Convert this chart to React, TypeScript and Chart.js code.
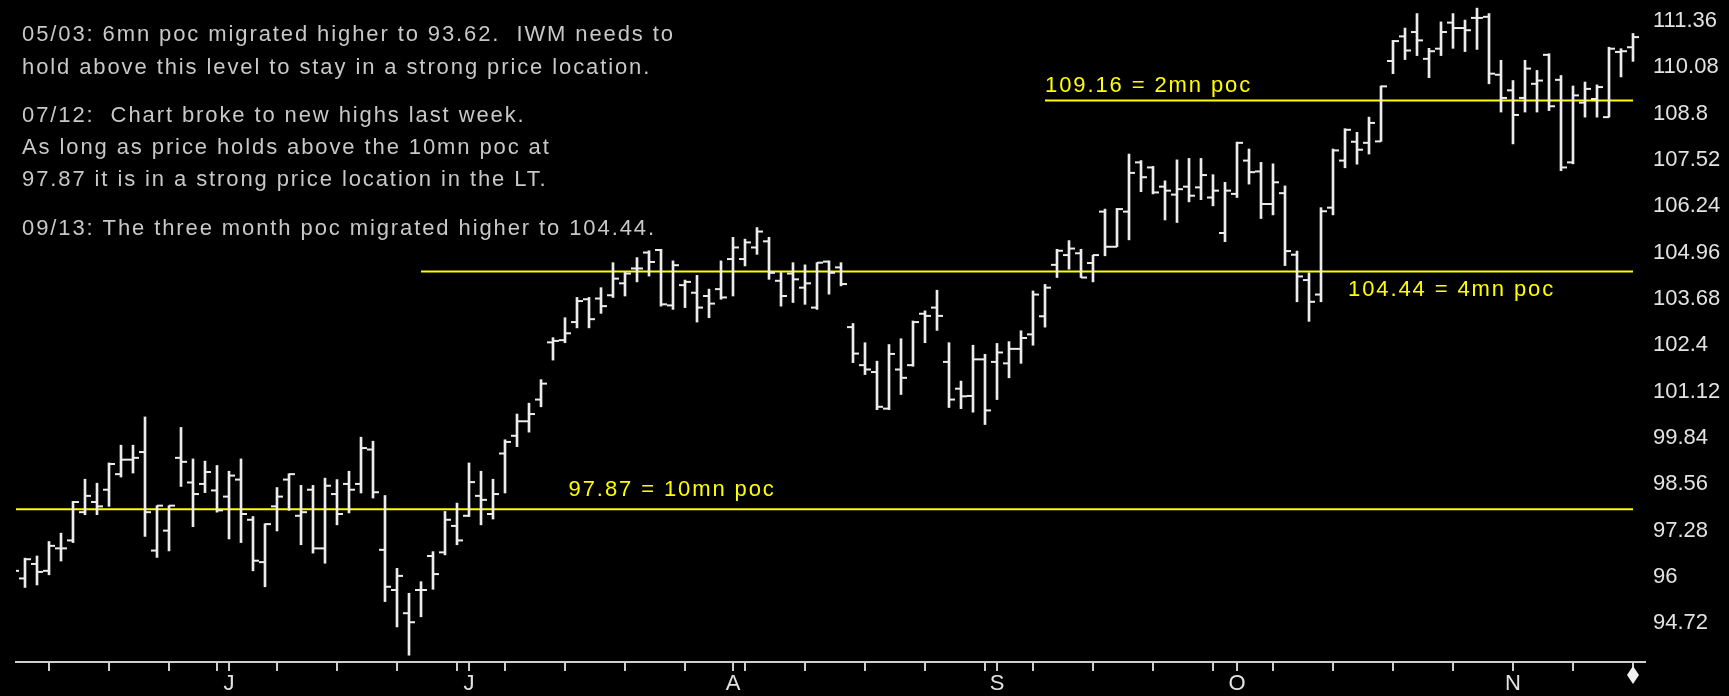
import { useEffect, useRef } from 'react';
import { Chart, registerables } from 'chart.js';

Chart.register(...registerables);

// ---- data: daily OHLC bars (bar index 1..136, 7 May .. 15 Nov) ----
const OPEN = [
  96.10, 95.96, 96.36, 96.17, 96.79, 97.01, 97.79, 98.07, 98.41, 98.84,
  99.24, 99.45, 96.73, 97.28, 99.29, 98.61, 98.57, 98.39, 98.22, 98.69,
  97.58, 96.41, 97.95, 98.69, 97.69, 98.41, 96.79, 98.29, 98.57, 98.57,
  99.52, 96.75, 95.64, 95.00, 95.64, 96.58, 96.68, 97.41, 97.69, 98.24,
  97.74, 99.41, 99.90, 100.30, 100.90, 102.48, 102.54, 103.04, 103.67, 103.69,
  103.78, 104.11, 104.52, 104.96, 105.03, 103.50, 104.06, 103.85, 103.76, 103.95,
  104.78, 104.78, 105.10, 105.27, 104.18, 104.38, 103.99, 103.44, 104.71, 104.55,
  102.90, 101.85, 101.66, 100.65, 101.73, 101.85, 103.27, 103.44, 101.94, 101.20,
  101.00, 102.01, 101.94, 101.90, 102.30, 102.70, 103.20, 104.62, 104.89, 104.94,
  104.67, 106.09, 105.12, 106.09, 107.45, 107.31, 106.78, 106.56, 106.78, 106.76,
  106.48, 105.50, 106.58, 107.50, 107.20, 106.30, 106.60, 104.90, 104.20, 103.80,
  106.20, 107.50, 108.02, 107.99, 108.03, 110.25, 110.93, 111.05, 110.31, 110.59,
  111.31, 111.16, 111.44, 111.47, 109.87, 109.44, 109.23, 109.62, 110.42, 109.73,
  107.45, 109.10, 109.20, 108.70, 110.50, 110.63,
];
const HIGH = [
  96.30, 96.52, 96.58, 96.98, 97.21, 98.09, 98.70, 98.59, 99.15, 99.64,
  99.64, 100.42, 97.97, 97.97, 100.13, 99.26, 99.20, 99.08, 98.92, 99.26,
  97.67, 97.47, 98.47, 98.85, 98.53, 98.53, 98.73, 98.69, 98.92, 99.86,
  99.75, 98.25, 96.24, 95.55, 95.87, 96.70, 97.81, 98.04, 99.15, 98.92,
  98.70, 99.79, 100.50, 100.80, 101.45, 102.61, 103.16, 103.72, 103.72, 103.99,
  104.68, 104.41, 104.82, 105.01, 105.05, 104.73, 104.20, 104.33, 103.95, 104.73,
  105.38, 105.33, 105.65, 105.38, 104.41, 104.68, 104.62, 104.68, 104.73, 104.68,
  103.00, 102.47, 101.96, 102.42, 102.58, 103.07, 103.35, 103.92, 102.47, 101.41,
  102.40, 102.15, 102.45, 102.50, 102.80, 103.90, 104.08, 105.05, 105.29, 105.05,
  104.89, 106.16, 106.18, 107.68, 107.50, 107.34, 106.94, 107.52, 107.56, 107.56,
  107.11, 106.90, 108.01, 107.82, 107.45, 107.41, 106.80, 105.00, 104.40, 106.20,
  107.82, 108.38, 108.28, 108.70, 109.56, 110.82, 111.16, 111.56, 110.60, 111.33,
  111.56, 111.38, 111.71, 111.56, 110.27, 109.71, 110.27, 109.99, 110.45, 109.85,
  109.56, 109.67, 109.59, 110.63, 110.59, 111.01,
];
const LOW = [
  96.00, 95.71, 95.78, 96.06, 96.44, 96.95, 97.72, 97.72, 97.95, 98.76,
  98.87, 97.12, 96.54, 96.72, 98.50, 97.39, 98.33, 97.79, 97.05, 96.95,
  96.17, 95.73, 97.27, 97.84, 96.89, 96.66, 96.38, 97.44, 97.77, 98.32,
  98.18, 95.32, 94.62, 93.84, 94.90, 95.66, 96.61, 96.89, 97.67, 97.44,
  97.60, 98.32, 99.60, 100.00, 100.70, 101.99, 102.47, 102.88, 102.88, 103.28,
  103.72, 103.76, 104.15, 104.31, 103.48, 103.39, 103.44, 103.04, 103.16, 103.67,
  103.76, 104.59, 104.91, 104.22, 103.48, 103.58, 103.53, 103.39, 103.81, 104.04,
  101.92, 101.59, 100.62, 100.62, 101.04, 101.82, 102.47, 102.81, 100.68, 100.65,
  100.55, 100.21, 100.90, 101.50, 101.90, 102.40, 102.90, 104.27, 104.50, 104.27,
  104.15, 104.87, 105.12, 105.31, 106.64, 106.58, 105.86, 105.79, 106.36, 106.42,
  106.25, 105.26, 106.48, 106.85, 105.90, 106.00, 104.60, 103.60, 103.06, 103.60,
  106.00, 107.30, 107.40, 107.68, 108.03, 109.90, 110.29, 110.40, 109.79, 110.40,
  110.60, 110.51, 110.57, 109.62, 108.84, 107.96, 108.84, 108.84, 108.88, 107.22,
  107.41, 108.70, 108.70, 108.70, 109.81, 110.24,
];
const CLOSE = [
  96.17, 96.49, 96.14, 96.86, 96.79, 98.07, 98.24, 97.95, 99.12, 99.24,
  99.29, 97.79, 97.97, 97.97, 99.18, 98.29, 98.90, 97.84, 98.80, 97.74,
  96.45, 97.46, 98.22, 98.84, 97.79, 96.79, 98.52, 97.74, 98.41, 99.56,
  98.34, 95.73, 96.03, 94.75, 95.64, 96.08, 97.58, 97.01, 98.62, 98.13,
  98.29, 99.73, 100.30, 100.50, 101.34, 102.52, 102.73, 103.62, 103.12, 103.48,
  104.24, 104.38, 104.52, 104.70, 103.53, 104.61, 104.15, 103.44, 103.55, 103.72,
  105.10, 105.24, 105.54, 104.40, 103.76, 104.22, 104.11, 104.68, 104.40, 104.09,
  102.17, 101.73, 100.70, 102.16, 101.50, 103.04, 103.21, 103.21, 100.90, 100.99,
  102.01, 100.60, 102.20, 102.30, 102.60, 103.80, 103.99, 105.01, 105.07, 104.27,
  104.89, 105.12, 106.16, 107.16, 107.04, 106.62, 106.67, 106.71, 106.53, 107.10,
  106.67, 106.67, 107.99, 107.18, 106.30, 106.90, 105.00, 104.30, 103.60, 106.10,
  107.78, 108.35, 107.80, 108.54, 109.55, 110.80, 110.54, 110.82, 110.52, 111.05,
  111.16, 111.10, 111.44, 109.90, 109.23, 108.76, 110.04, 109.71, 109.00, 107.31,
  109.30, 109.48, 109.53, 110.59, 110.52, 110.91,
];

// price axis ticks
const Y_TICKS = [94.72, 96, 97.28, 98.56, 99.84, 101.12, 102.4, 103.68, 104.96, 106.24, 107.52, 108.8, 110.08, 111.36];
const Y_TICK_LABELS = ['94.72', '96', '97.28', '98.56', '99.84', '101.12', '102.4', '103.68', '104.96', '106.24', '107.52', '108.8', '110.08', '111.36'];
const Y_MIN = 93.652;
const Y_MAX = 111.769;

// time axis: weekly (Friday) ticks and first trading day of each month, as bar indexes
const WEEK_END_BARS = [4, 9, 14, 18, 23, 28, 33, 38, 42, 47, 52, 57, 62, 67, 72, 77, 82, 86, 91, 96, 101, 106, 111, 116, 121, 126, 131, 136];
const MONTH_START_BARS = [19, 39, 61, 83, 103, 126];
const MONTH_LABELS = ['J', 'J', 'A', 'S', 'O', 'N'];

// point-of-control levels
const LEVELS = [97.87, 104.44, 109.16];
const LEVEL_START_BARS = [1, 35, 87];
const LEVEL_LABELS = ['97.87 = 10mn poc', '104.44 = 4mn poc', '109.16 = 2mn poc'];

const NOTES = [
  '05/03: 6mn poc migrated higher to 93.62.  IWM needs to',
  'hold above this level to stay in a strong price location.',
  '07/12:  Chart broke to new highs last week.',
  'As long as price holds above the 10mn poc at',
  '97.87 it is in a strong price location in the LT.',
  '09/13: The three month poc migrated higher to 104.44.',
];

const FONT = '"Liberation Sans", Arial, sans-serif';
const BAR_COLOR = '#ececec';

export default function App() {
  const ref = useRef<HTMLCanvasElement | null>(null);

  useEffect(() => {
    document.body.style.background = '#000';
    const n = OPEN.length;
    const tickBars = Array.from(new Set([...WEEK_END_BARS, ...MONTH_START_BARS])).sort((a, b) => a - b);

    const ranges = OPEN.map((_, i) => ({ x: i + 1, y: [LOW[i], HIGH[i]] }));
    const opens = OPEN.map((v, i) => ({ x: i + 1 - 0.25, y: v }));
    const closes = CLOSE.map((v, i) => ({ x: i + 1 + 0.25, y: v }));

    const levelSets = LEVELS.map((lv, k) => ({
      type: 'line' as const,
      data: [{ x: LEVEL_START_BARS[k], y: lv }, { x: n, y: lv }],
      borderColor: '#ffff00',
      borderWidth: 2,
      pointRadius: 0,
      order: 10,
    }));

    const notesPlugin = {
      id: 'notes',
      afterDatasetsDraw(chart: any) {
        const { ctx, scales } = chart;
        const xs = scales.x;
        const ys = scales.y;
        ctx.save();
        ctx.font = `22px ${FONT}`;
        ctx.letterSpacing = '1.9px';
        ctx.textAlign = 'left';
        ctx.textBaseline = 'alphabetic';
        ctx.fillStyle = '#c8c8c8';
        const baselines = [41, 74, 122, 154, 186, 235];
        NOTES.forEach((t, i) => ctx.fillText(t, 22, baselines[i]));

        ctx.fillStyle = '#ffff00';
        const labelBars = [47.3, 112.25, 87];
        const labelDy = [-13, 25, -8];
        LEVEL_LABELS.forEach((t, k) => {
          ctx.fillText(t, xs.getPixelForValue(labelBars[k]), ys.getPixelForValue(LEVELS[k]) + labelDy[k]);
        });
        ctx.restore();

        // current-bar marker under the time axis
        const mx = xs.getPixelForValue(n);
        const my = chart.chartArea.bottom + 13;
        ctx.save();
        ctx.fillStyle = '#f0f0f0';
        ctx.beginPath();
        ctx.moveTo(mx, my - 9);
        ctx.lineTo(mx + 6, my);
        ctx.lineTo(mx, my + 9);
        ctx.lineTo(mx - 6, my);
        ctx.closePath();
        ctx.fill();
        ctx.restore();
      },
    };

    const chart = new Chart(ref.current as HTMLCanvasElement, {
      type: 'bar',
      data: {
        datasets: [
          ...levelSets,
          {
            type: 'bar' as const,
            data: ranges as any,
            backgroundColor: BAR_COLOR,
            borderWidth: 0,
            barThickness: 2,
            grouped: false,
            order: 2,
          },
          {
            type: 'scatter' as const,
            data: opens,
            pointStyle: 'line',
            pointRadius: 3,
            pointBorderWidth: 2,
            pointBorderColor: BAR_COLOR,
            pointBackgroundColor: BAR_COLOR,
            order: 1,
          },
          {
            type: 'scatter' as const,
            data: closes,
            pointStyle: 'line',
            pointRadius: 3,
            pointBorderWidth: 2,
            pointBorderColor: BAR_COLOR,
            pointBackgroundColor: BAR_COLOR,
            order: 1,
          },
        ] as any,
      },
      options: {
        responsive: false,
        maintainAspectRatio: false,
        animation: false,
        events: [],
        layout: { padding: { left: 16, right: 0, top: 0, bottom: 0 } },
        plugins: { legend: { display: false }, tooltip: { enabled: false } },
        scales: {
          x: {
            type: 'linear',
            min: 1.25,
            max: 137,
            offset: false,
            afterBuildTicks: (s: any) => {
              s.ticks = tickBars.map((v) => ({ value: v }));
            },
            afterFit: (s: any) => {
              s.height = 34;
              s.paddingLeft = 0;
              s.paddingRight = 0;
            },
            grid: {
              display: true,
              drawOnChartArea: false,
              drawTicks: true,
              tickLength: 9,
              color: '#cfcfcf',
              lineWidth: 2,
              offset: false,
            },
            border: { display: true, color: '#cfcfcf', width: 2 },
            ticks: {
              autoSkip: false,
              maxRotation: 0,
              minRotation: 0,
              padding: 0,
              color: '#e2e2e2',
              font: { family: FONT, size: 22 },
              callback: (v: any) => {
                const k = MONTH_START_BARS.indexOf(Number(v));
                return k >= 0 ? MONTH_LABELS[k] : '';
              },
            },
          },
          y: {
            type: 'linear',
            position: 'right',
            min: Y_MIN,
            max: Y_MAX,
            afterBuildTicks: (s: any) => {
              s.ticks = Y_TICKS.map((v) => ({ value: v }));
            },
            afterFit: (s: any) => {
              s.width = 84;
              s.paddingTop = 0;
              s.paddingBottom = 0;
            },
            grid: { display: false, drawTicks: false },
            border: { display: false },
            ticks: {
              padding: 8,
              color: '#e2e2e2',
              font: { family: FONT, size: 22 },
              callback: (v: any) => {
                const k = Y_TICKS.indexOf(Number(v));
                return k >= 0 ? Y_TICK_LABELS[k] : '';
              },
            },
          },
        },
      } as any,
      plugins: [notesPlugin],
    });
    return () => chart.destroy();
  }, []);

  return (
    <div style={{ position: 'fixed', left: 0, top: 0, width: 1729, height: 696, background: '#000' }}>
      <canvas ref={ref} width={1729} height={696} style={{ display: 'block', width: 1729, height: 696 }} />
    </div>
  );
}
